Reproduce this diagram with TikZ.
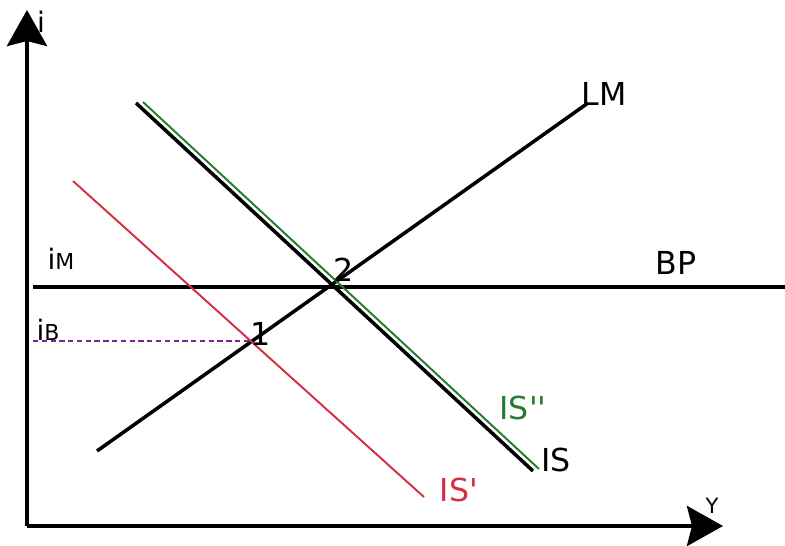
\documentclass[tikz,border=0pt]{standalone}
\usepackage{fontspec}
\setmainfont{DejaVu Sans}
\usetikzlibrary{arrows.meta, positioning}
\definecolor{isred}{RGB}{215,45,65}
\definecolor{isgreen}{RGB}{35,125,45}
\definecolor{ibpurple}{RGB}{120,40,140}

\begin{document}
\begin{tikzpicture}[x=0.02cm, y=-0.02cm,
    axis/.style={line width=2.3pt, -{Stealth[length=0.72cm, width=0.8cm, inset=0.1cm]}},
    curve/.style={line width=2pt},
    moved/.style={line width=1.1pt},
    big/.style={inner sep=0pt, font=\fontsize{18}{20}\selectfont},
    tiny/.style={inner sep=0pt, font=\fontsize{16}{18}\selectfont}]
  \useasboundingbox (0,0) rectangle (785,545);

  % axes
  \coordinate (o) at (27,526);
  \coordinate (itop) at (27,10);
  \coordinate (yend) at (723,526);
  \draw[axis] (o) -- (itop);
  \draw[axis] (o) -- (yend);
  \node[tiny] (ilab) at (41,22) {i};
  \node[tiny, font=\fontsize{12}{14}\selectfont] (ylab) at (712,506) {Y};

  % curves
  \coordinate (bp0) at (33,287);
  \coordinate (bp1) at (785,287);
  \coordinate (lm0) at (97,451);
  \coordinate (lm1) at (588,103);
  \coordinate (is0) at (136,103);
  \coordinate (is1) at (533,471);
  \coordinate (isg0) at (143,102);
  \coordinate (isg1) at (539,469);
  \coordinate (isr0) at (73,181);
  \coordinate (isr1) at (424,497);
  \coordinate (ib0) at (33,341);
  \coordinate (p1) at (251,341);

  \draw[curve] (bp0) -- (bp1);
  \draw[curve] (lm0) -- (lm1);
  \draw[moved, isgreen] (isg0) -- (isg1);
  \draw[curve] (is0) -- (is1);
  \draw[moved, isred] (isr0) -- (isr1);
  \draw[ibpurple, densely dashed, line width=0.8pt] (ib0) -- (p1);

  % labels
  \node[big] (lmlab) at (604,94) {LM};
  \node[big] (bplab) at (676,263) {BP};
  \node[big] (islab) at (556,460) {IS};
  \node[big, isgreen] (isglab) at (523,408) {IS\textquotesingle\textquotesingle};
  \node[big, isred] (isrlab) at (459,490) {IS\textquotesingle};
  \node[big] (n2) at (344,270) {2};
  \node[big] (n1) at (261,334) {1};
  \node[tiny] (imlab) at (61,259) {i{\fontsize{12.5}{14}\selectfont M}};
  \node[tiny] (iblab) at (48,330) {i{\fontsize{12.5}{14}\selectfont B}};
\end{tikzpicture}
\end{document}
